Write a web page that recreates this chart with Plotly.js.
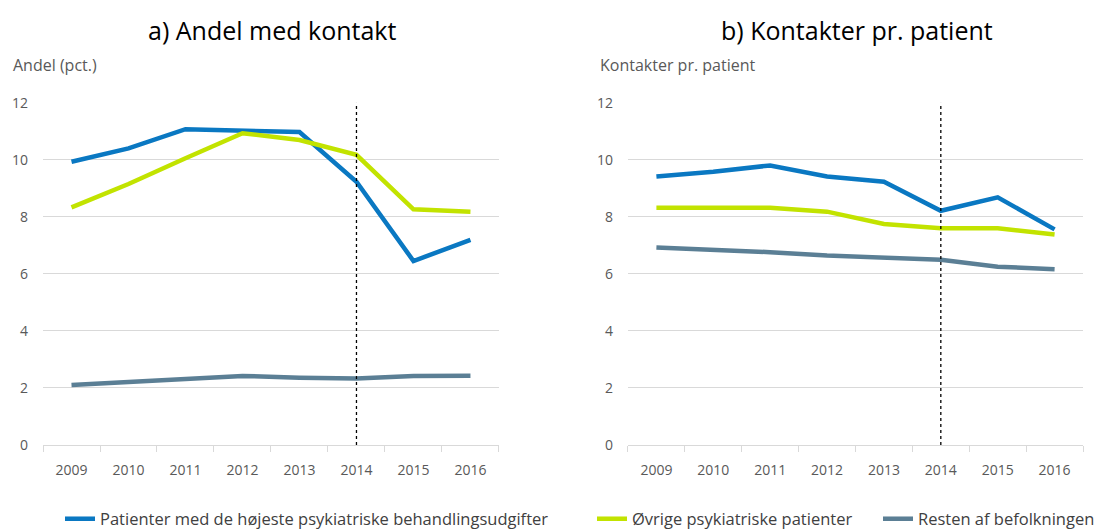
<!DOCTYPE html>
<html>
<head>
<meta charset="utf-8">
<script src="https://cdn.plot.ly/plotly-3.0.1.min.js"></script>
<style>html,body{margin:0;padding:0;background:#fff;}#chart{width:1114px;height:529px;}</style>
</head>
<body>
<div id="chart"></div>
<script>
// ---- data ----
const years = [2009, 2010, 2011, 2012, 2013, 2014, 2015, 2016];
const yearLabels = ["2009","2010","2011","2012","2013","2014","2015","2016"];
const seriesNames = ["Patienter med de højeste psykiatriske behandlingsudgifter", "Øvrige psykiatriske patienter", "Resten af befolkningen"];
// a) Andel med kontakt (pct.)
const andelHoejeste = [9.93, 10.40, 11.07, 11.02, 10.97, 9.23, 6.45, 7.19];
const andelOevrige  = [8.33, 9.15, 10.05, 10.93, 10.69, 10.17, 8.26, 8.18];
const andelResten   = [2.10, 2.20, 2.29, 2.42, 2.36, 2.33, 2.42, 2.43];
// b) Kontakter pr. patient
const kontHoejeste = [9.41, 9.58, 9.80, 9.41, 9.23, 8.21, 8.68, 7.56];
const kontOevrige  = [8.32, 8.32, 8.32, 8.18, 7.75, 7.60, 7.60, 7.38];
const kontResten   = [6.92, 6.84, 6.76, 6.64, 6.57, 6.49, 6.25, 6.16];
const markerYear = 2014;
const yTicks = [0, 2, 4, 6, 8, 10, 12];

const colors = ["#0a78c2", "#c2e300", "#5b7f95"];
const legends = ["legend", "legend2", "legend3"];

function tr(y, i, xa, ya, show) {
  return {
    x: years, y: y, type: "scatter", mode: "lines",
    name: seriesNames[i], xaxis: xa, yaxis: ya,
    line: {color: colors[i], width: 4.5},
    showlegend: show, legend: legends[i], hoverinfo: "skip"
  };
}
const data = [
  tr(andelHoejeste, 0, "x", "y", true),
  tr(andelOevrige, 1, "x", "y", true),
  tr(andelResten, 2, "x", "y", true),
  tr(kontHoejeste, 0, "x2", "y2", false),
  tr(kontOevrige, 1, "x2", "y2", false),
  tr(kontResten, 2, "x2", "y2", false)
];

const F = "'Open Sans', 'Noto Sans', sans-serif";
const tickFont = {family: F, size: 14, color: "#595959"};
const boundaries = years.map(v => v - 0.5).concat([years[years.length - 1] + 0.5]);
function xaxis(dom, anchor) {
  return {
    domain: dom, anchor: anchor, type: "linear",
    range: [boundaries[0], boundaries[boundaries.length - 1]],
    tickvals: years, ticktext: yearLabels, ticks: "",
    minor: {tickvals: boundaries, ticks: "outside", ticklen: 6, tickcolor: "#d9d9d9", showgrid: false},
    showline: true, linecolor: "#d9d9d9", linewidth: 1,
    showgrid: false, zeroline: false, tickfont: tickFont,
    ticklabelstandoff: 12, fixedrange: true, automargin: false
  };
}
function yaxis(anchor) {
  return {
    domain: [0.1588, 0.8059], anchor: anchor, range: [0, 12],
    tickvals: yTicks, ticktext: yTicks.map(String),
    showgrid: true, gridcolor: "#d9d9d9", gridwidth: 1,
    zeroline: false, showline: false, ticks: "",
    tickfont: tickFont, ticklabelstandoff: 14, fixedrange: true, automargin: false
  };
}
function vline(xa, ya) {
  return {type: "line", xref: xa, yref: ya, x0: markerYear, x1: markerYear, y0: 0, y1: 12,
    line: {color: "#000", width: 1.3, dash: "3px,3px"}};
}
const legFont = {family: F, size: 16.5, color: "#404040"};
function leg(px) {
  return {x: px / 1114, y: 1 - 519 / 529,
    xanchor: "left", yanchor: "middle",
    orientation: "h", font: legFont, bgcolor: "rgba(0,0,0,0)", borderwidth: 0};
}

const layout = {
  width: 1114, height: 529,
  margin: {l: 0, r: 0, t: 0, b: 0, autoexpand: false},
  paper_bgcolor: "#fff", plot_bgcolor: "#fff",
  xaxis: xaxis([0.0386, 0.4479], "y"),
  yaxis: yaxis("x"),
  xaxis2: xaxis([0.5637, 0.9722], "y2"),
  yaxis2: yaxis("x2"),
  legend: leg(60),
  legend2: leg(592),
  legend3: leg(878),
  shapes: [vline("x", "y"), vline("x2", "y2")],
  annotations: [
    {text: "a) Andel med kontakt", xref: "paper", yref: "paper", x: 272 / 1114, y: 1 - 30 / 529,
     xanchor: "center", yanchor: "middle", showarrow: false, font: {family: F, size: 25, color: "#000"}},
    {text: "b) Kontakter pr. patient", xref: "paper", yref: "paper", x: 857 / 1114, y: 1 - 30 / 529,
     xanchor: "center", yanchor: "middle", showarrow: false, font: {family: F, size: 25, color: "#000"}},
    {text: "Andel (pct.)", xref: "paper", yref: "paper", x: 11 / 1114, y: 1 - 65 / 529,
     xanchor: "left", yanchor: "middle", showarrow: false, font: {family: F, size: 16, color: "#595959"}},
    {text: "Kontakter pr. patient", xref: "paper", yref: "paper", x: 598 / 1114, y: 1 - 65 / 529,
     xanchor: "left", yanchor: "middle", showarrow: false, font: {family: F, size: 16, color: "#595959"}}
  ]
};

Plotly.newPlot("chart", data, layout, {displayModeBar: false, staticPlot: true});
</script>
</body>
</html>
